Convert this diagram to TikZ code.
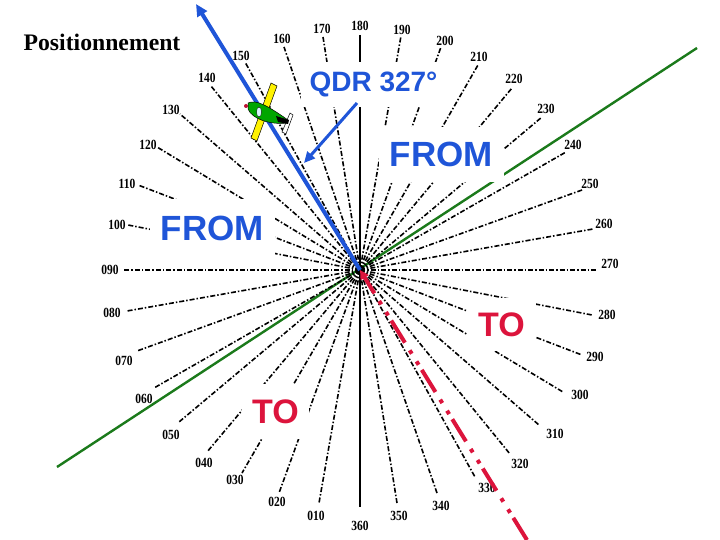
\documentclass[tikz,border=0pt]{standalone}
\usepackage{fontspec}
\usetikzlibrary{arrows.meta}
\newfontfamily\degfont[FakeStretch=0.82]{Liberation Serif}
\newfontfamily\titlefont{Liberation Serif}
\newfontfamily\wordfont{Liberation Sans}
\definecolor{qdrblue}{HTML}{1F55D8}
\definecolor{tored}{HTML}{DC143C}
\definecolor{axisgreen}{HTML}{1B7A1B}
\tikzset{
  spoke/.style={black,line width=1.6pt,dash pattern=on 5pt off 2pt on 1.5pt off 2pt},
  deglabel/.style={font=\degfont\fontsize{14}{14}\bfseries\selectfont,inner sep=0pt},
  wordbox/.style={fill=white,inner sep=0pt,font=\wordfont\bfseries},
  frombox/.style={wordbox,text=qdrblue,font=\wordfont\bfseries\fontsize{35}{35}\selectfont},
  tobox/.style={wordbox,text=tored,font=\wordfont\bfseries\fontsize{34}{34}\selectfont},
  qdrbox/.style={wordbox,text=qdrblue,font=\wordfont\bfseries\fontsize{28}{28}\selectfont},
}
\begin{document}
\begin{tikzpicture}[x=1pt,y=-1pt]
      \useasboundingbox (0,0) rectangle (720,540);
      \coordinate (c) at (360,270);
      \coordinate (greenA) at (57,467);
      \coordinate (greenB) at (697,48);
      \coordinate (bluetip) at (196,4);
      \coordinate (redend) at (527,540);
      \coordinate (qdrfoot) at (304,163);
      \node[font=\titlefont\bfseries\fontsize{23.7}{24}\selectfont,inner sep=0pt] (title) at (102,42) {Positionnement};
      \draw[axisgreen,line width=2.4pt] (greenA) -- (greenB);
      % labels with the outer end of their spokes
      \foreach \deg/\lx/\ly/\ox/\oy in {
        010/316/516/319/503, 020/277/502/279/493, 030/235/480/242/473, 040/204/463/207/452,
        050/171/435/179/422, 060/144/399/154/388, 070/124/361/137/351, 080/112/313/127/311,
        090/110/270/123/270, 100/117/225/128/225, 110/127/184/138/185, 120/148/145/157/147,
        130/171/110/180/114, 140/207/78/211/86, 150/241/56/245/62, 160/282/39/284/47,
        170/322/29/323/37, 190/402/30/401/36, 200/445/41/441/47, 210/479/57/478/65,
        220/514/79/512/88, 230/546/109/542/117, 240/573/145/566/152, 250/590/184/582/190,
        260/604/224/593/229, 270/610/264/597/270, 280/607/315/592/315, 290/595/357/582/355,
        300/580/395/563/392, 310/555/434/539/425, 320/520/464/510/454, 330/487/488/475/477,
        340/441/506/437/493, 350/399/516/397/503} {
        \node[deglabel] (l\deg) at (\lx,\ly) {\deg};
        \coordinate (o\deg) at (\ox,\oy);
        \draw[spoke] (c) -- (o\deg);
      }
      \node[deglabel] (l180) at (360,26) {180};
      \node[deglabel] (l360) at (360,526) {360};
      \coordinate (o180) at (360,35);
      \coordinate (o360) at (360,507);
      \draw[black,line width=2pt] (o180) -- (o360);
      % white boxes hide the spokes behind the words
      \node[qdrbox,minimum width=139pt,minimum height=45pt] (qdr) at (370.5,84.5) {\hspace{6pt}QDR 327°};
      \node[frombox,minimum width=125pt,minimum height=55pt] (fromR) at (441.5,154.5) {FROM};
      \node[frombox,minimum width=125pt,minimum height=59pt] (fromL) at (212.5,228.5) {FROM};
      \node[tobox,minimum width=69pt,minimum height=53pt] (toR) at (501.5,324.5) {TO};
      \node[tobox,minimum width=67pt,minimum height=55pt] (toL) at (275.5,411.5) {TO};
      \draw[qdrblue,line width=3pt,-{Triangle[length=11pt,width=10pt]}] (357,103) -- (qdrfoot);
      \draw[qdrblue,line width=4pt,-{Triangle[length=12pt,width=11pt]}] (c) -- (bluetip);
      \draw[tored,line width=4pt,{Triangle[length=9pt,width=9pt]}-,dash pattern=on 26pt off 9pt on 4pt off 9pt on 4pt off 6pt,dash phase=7pt] (c) -- (redend);
      % plane
      \draw[black,line width=.5pt,fill=white] (290,113) -- (293,115) -- (286,134) -- (282,132) -- cycle;
      \draw[black,line width=.5pt,fill=yellow] (271,83) -- (277,86) -- (257,141) -- (251,138) -- cycle;
      \draw[black,line width=.5pt,fill=green!65!black] (248,103) .. controls (256,99) and (268,106) .. (288,120) -- (287,123) .. controls (270,125) and (252,119) .. (248,109) -- cycle;
      \fill[black] (276,116) -- (289,120) -- (288,124) -- (278,122) -- cycle;
      \fill[tored!85!black] (246,106) circle (2pt);
      \draw[black,line width=.3pt,fill=cyan!15] (259,112) ellipse (2.5pt and 5pt);
\end{tikzpicture}
\end{document}
